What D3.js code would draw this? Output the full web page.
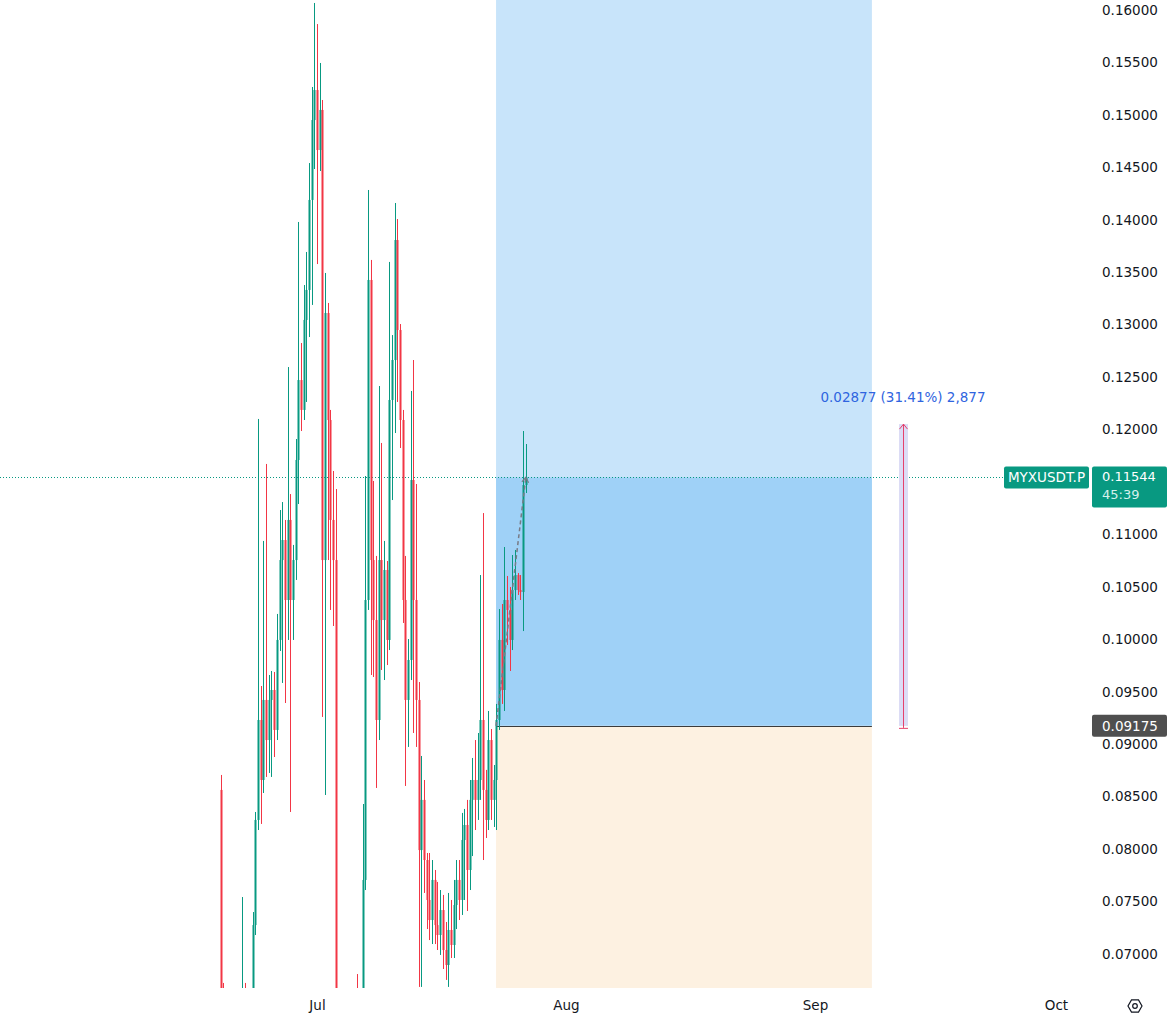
<!DOCTYPE html>
<html><head><meta charset="utf-8">
<script src="https://cdn.jsdelivr.net/npm/d3@7"></script>
<style>
html,body{margin:0;padding:0;background:#fff;}
svg{display:block;font-family:"DejaVu Sans",sans-serif;}
</style>
</head><body>
<svg id="chart" width="1167" height="1021"></svg>
<script>
// ---------------- DATA ----------------
const symbol = "MYXUSDT.P";
const candleStart = "2025-06-19T00:00:00Z";
const candleIntervalHours = 8;
const opens = [
0.08564,0.06657,0.06181,0.05990,0.06276,0.06086,0.05895,0.06181,0.06467,0.06610,
0.06276,0.06467,0.06638,0.07276,0.08278,0.09231,0.08659,0.09422,0.09040,0.09422,
0.09517,0.09136,0.09994,0.10756,0.10947,0.10375,0.11138,0.10375,0.10756,0.11710,
0.12472,0.12187,0.13045,0.13331,0.14189,0.14951,0.15237,0.14665,0.15047,0.10756,
0.13111,0.12091,0.11138,0.10756,0.06562,0.06181,0.05895,0.05990,0.06276,0.06086,
0.06371,0.06562,0.06371,0.06562,0.07706,0.10375,0.13426,0.10756,0.10184,0.09231,
0.10756,0.10184,0.10661,0.09994,0.12282,0.12663,0.13807,0.12949,0.12091,0.10375,
0.09422,0.09803,0.11519,0.10375,0.09422,0.07991,0.08469,0.07896,0.07515,0.07324,
0.07706,0.07276,0.07181,0.07419,0.07038,0.06895,0.07229,0.07086,0.07467,0.07706,
0.07515,0.08087,0.08230,0.07801,0.08469,0.08659,0.08469,0.08659,0.09231,0.08564,
0.08278,0.09040,0.08469,0.08659,0.09231,0.09994,0.09517,0.10375,0.10280,0.09994,
0.10470,0.10613,0.10470,0.10451,0.11471];
const highs = [
0.08707,0.06724,0.06562,0.06467,0.06562,0.06371,0.06276,0.06562,0.07543,0.06724,
0.06562,0.06657,0.07400,0.08354,0.12101,0.09555,0.10938,0.11672,0.09660,0.09698,
0.09689,0.10242,0.11233,0.11309,0.11138,0.12596,0.11385,0.10900,0.11910,0.13979,
0.12825,0.13378,0.13693,0.14541,0.15266,0.16067,0.15866,0.15495,0.15142,0.13493,
0.13207,0.12187,0.11605,0.11433,0.06610,0.06467,0.06276,0.06371,0.06562,0.06467,
0.06610,0.06809,0.06610,0.08430,0.11557,0.14284,0.13617,0.11510,0.10795,0.12415,
0.11872,0.10938,0.10747,0.13598,0.12901,0.14160,0.14007,0.13006,0.12187,0.10795,
0.10003,0.12368,0.12663,0.11481,0.09593,0.08888,0.08659,0.07963,0.07963,0.07896,
0.07801,0.07687,0.07610,0.07563,0.07305,0.07582,0.07515,0.07706,0.07896,0.07896,
0.08345,0.08383,0.08469,0.08659,0.08869,0.09040,0.09107,0.10613,0.11204,0.08755,
0.09317,0.09145,0.08802,0.09384,0.10289,0.10337,0.10880,0.10604,0.10499,0.10804,
0.10852,0.10632,0.10613,0.11986,0.11862];
const lows = [
0.05608,0.05800,0.05705,0.05608,0.05800,0.05513,0.05513,0.05895,0.06181,0.06086,
0.05990,0.06181,0.06562,0.07181,0.08182,0.08240,0.08535,0.08688,0.08726,0.08688,
0.08878,0.09040,0.09889,0.09584,0.09393,0.09994,0.08354,0.09994,0.10566,0.11290,
0.11986,0.12091,0.12263,0.12882,0.13188,0.14484,0.13578,0.14465,0.09260,0.08516,
0.10756,0.10280,0.10127,0.06467,0.05608,0.05418,0.05322,0.05608,0.05800,0.05705,
0.05990,0.06086,0.05990,0.06467,0.07610,0.10280,0.09660,0.09641,0.08583,0.09040,
0.09708,0.09612,0.09755,0.09898,0.11328,0.11967,0.12263,0.11824,0.10156,0.08602,
0.08974,0.09612,0.09107,0.08974,0.06686,0.06686,0.07582,0.07238,0.07133,0.07095,
0.07095,0.07038,0.06991,0.06857,0.06753,0.06686,0.06962,0.06962,0.07238,0.07324,
0.07372,0.07515,0.07410,0.07610,0.07934,0.08182,0.08278,0.08469,0.07896,0.08106,
0.08182,0.08278,0.08211,0.08182,0.09136,0.09384,0.09317,0.09946,0.09698,0.09898,
0.10375,0.10423,0.10375,0.10079,0.11395];
const closes = [
0.06086,0.06181,0.05990,0.06276,0.06086,0.05895,0.06181,0.06467,0.06610,0.06276,
0.06467,0.06638,0.07276,0.08278,0.09231,0.08659,0.09422,0.09040,0.09422,0.09517,
0.09136,0.09994,0.10756,0.10947,0.10375,0.11138,0.10375,0.10756,0.11710,0.12472,
0.12187,0.13045,0.13331,0.14189,0.14951,0.15237,0.14665,0.15047,0.10756,0.13111,
0.12091,0.11138,0.10756,0.06562,0.06181,0.05895,0.05990,0.06276,0.06086,0.06371,
0.06562,0.06371,0.06562,0.07706,0.10375,0.13426,0.10756,0.10184,0.09231,0.10756,
0.10184,0.10661,0.09994,0.12282,0.12663,0.13807,0.12949,0.12091,0.10375,0.09422,
0.09803,0.11519,0.10375,0.09422,0.07991,0.08469,0.07896,0.07515,0.07324,0.07706,
0.07276,0.07181,0.07419,0.07038,0.06895,0.07229,0.07086,0.07467,0.07706,0.07515,
0.08087,0.08230,0.07801,0.08469,0.08659,0.08469,0.08659,0.09231,0.08564,0.08278,
0.09040,0.08469,0.08659,0.09231,0.09994,0.09517,0.10375,0.10280,0.09994,0.10470,
0.10613,0.10470,0.10451,0.11471,0.11544];

const monthTicks = ["2025-07-01","2025-08-01","2025-09-01","2025-10-01"];
const priceTicks = [0.07,0.075,0.08,0.085,0.09,0.095,0.10,0.105,0.11,0.115,0.12,0.125,0.13,0.135,0.14,0.145,0.15,0.155,0.16];

const lastPrice = 0.11544;
const countdown = "45:39";
const entryPrice = 0.09175;
const targetPrice = 0.175;
const stopPrice = 0.055;
const positionStart = "2025-07-23T07:00:00Z";
const positionEnd = "2025-09-08T02:00:00Z";
const measureTime = "2025-09-12T00:00:00Z";
const measureFrom = 0.09175;
const measureTo = 0.12052;
const measureLabel = "0.02877 (31.41%) 2,877";

// ---------------- CHART ----------------
const W = 1167, H = 1021;
const plotRight = 1092, plotBottom = 988;
const upColor = "#089981", downColor = "#f23645";

const svg = d3.select("#chart");
const x = d3.scaleUtc()
  .domain([new Date("2025-07-01T00:00:00Z"), new Date("2025-08-01T00:00:00Z")])
  .range([317, 566]);
const y = d3.scaleLinear().domain([0.07, 0.16]).range([954, 10]);

svg.append("rect").attr("width", W).attr("height", H).attr("fill", "#fff");

const defs = svg.append("defs");
defs.append("clipPath").attr("id", "plotClip")
  .append("rect").attr("x", 0).attr("y", 0).attr("width", plotRight).attr("height", plotBottom);

const plot = svg.append("g").attr("clip-path", "url(#plotClip)");

const t0 = new Date(candleStart).getTime();
const candles = opens.map((o, i) => ({
  t: new Date(t0 + i * candleIntervalHours * 3600e3),
  o, h: highs[i], l: lows[i], c: closes[i]
}));

// position zones
const px0 = x(new Date(positionStart)), px1 = x(new Date(positionEnd));
plot.append("rect").attr("x", px0).attr("width", px1 - px0)
  .attr("y", y(targetPrice)).attr("height", y(entryPrice) - y(targetPrice))
  .attr("fill", "#c8e4fa");
plot.append("rect").attr("x", px0).attr("width", px1 - px0)
  .attr("y", y(lastPrice)).attr("height", y(entryPrice) - y(lastPrice))
  .attr("fill", "#9fd1f7");
plot.append("rect").attr("x", px0).attr("width", px1 - px0)
  .attr("y", y(entryPrice)).attr("height", y(stopPrice) - y(entryPrice))
  .attr("fill", "#fdf1e1");
plot.append("line").attr("x1", px0).attr("x2", px1)
  .attr("y1", Math.round(y(entryPrice)) + 0.5).attr("y2", Math.round(y(entryPrice)) + 0.5)
  .attr("stroke", "#3b3b3b").attr("stroke-width", 1);

// last price dotted line
plot.append("line").attr("x1", 0).attr("x2", 1004)
  .attr("y1", Math.round(y(lastPrice)) + 0.5).attr("y2", Math.round(y(lastPrice)) + 0.5)
  .attr("stroke", upColor).attr("stroke-width", 1).attr("stroke-dasharray", "1,2");

// candles
const cg = plot.append("g");
candles.forEach(d => {
  const cx = Math.round(x(d.t));
  const col = d.c >= d.o ? upColor : downColor;
  cg.append("line").attr("x1", cx + 0.5).attr("x2", cx + 0.5)
    .attr("y1", y(d.h)).attr("y2", y(d.l)).attr("stroke", col).attr("stroke-width", 1);
  const yt = y(Math.max(d.o, d.c)), yb = y(Math.min(d.o, d.c));
  cg.append("rect").attr("x", cx - 0.5).attr("width", 2)
    .attr("y", yt).attr("height", Math.max(1, yb - yt)).attr("fill", col);
});

// dashed line from entry to current price
const last = candles[candles.length - 1];
const dx0 = px0, dy0 = y(entryPrice), dx1 = x(last.t), dy1 = y(lastPrice);
plot.append("line").attr("x1", dx0).attr("y1", dy0).attr("x2", dx1).attr("y2", dy1)
  .attr("stroke", "#787b86").attr("stroke-width", 1.5).attr("stroke-dasharray", "4,3");
const ang = Math.atan2(dy1 - dy0, dx1 - dx0);
const ah = 6;
plot.append("path")
  .attr("d", `M${dx1 - ah*Math.cos(ang - 0.6)},${dy1 - ah*Math.sin(ang - 0.6)}L${dx1},${dy1}L${dx1 - ah*Math.cos(ang + 0.6)},${dy1 - ah*Math.sin(ang + 0.6)}`)
  .attr("fill", "none").attr("stroke", "#787b86").attr("stroke-width", 1.2);

// measurement tool
const mx = Math.round(x(new Date(measureTime)));
const my0 = y(measureFrom), my1 = y(measureTo);
plot.append("rect").attr("x", mx - 4).attr("width", 9).attr("y", my1).attr("height", my0 - my1)
  .attr("fill", "#dcdcf5");
plot.append("line").attr("x1", mx + 0.5).attr("x2", mx + 0.5).attr("y1", my1).attr("y2", my0 + 2)
  .attr("stroke", "#e5416c").attr("stroke-width", 1);
plot.append("path").attr("d", `M${mx - 3.5},${my1 + 5}L${mx + 0.5},${my1}L${mx + 4.5},${my1 + 5}`)
  .attr("fill", "none").attr("stroke", "#e5416c").attr("stroke-width", 1);
plot.append("line").attr("x1", mx - 4).attr("x2", mx + 5).attr("y1", my0 + 2.5).attr("y2", my0 + 2.5)
  .attr("stroke", "#e5416c").attr("stroke-width", 1);
svg.append("text").attr("x", mx).attr("y", my1 - 22).attr("text-anchor", "middle")
  .attr("font-size", 13.5).attr("fill", "#2f64e0").text(measureLabel);

// price axis (labels hidden where the last-price box covers them)
const ly = y(lastPrice);
const visibleTicks = priceTicks.filter(p => {
  const py = y(p);
  return !(py > ly - 14 && py < ly + 34);
});
const ya = svg.append("g").attr("transform", "translate(1102,0)")
  .call(d3.axisRight(y).tickValues(visibleTicks).tickFormat(d3.format(".5f")).tickSize(0).tickPadding(0));
ya.select(".domain").remove();
ya.selectAll("text").attr("font-size", 13.5).attr("fill", "#131722").attr("font-family", "DejaVu Sans");

// time axis
const xa = svg.append("g").attr("transform", "translate(0,1000)")
  .call(d3.axisBottom(x).tickValues(monthTicks.map(s => new Date(s + "T00:00:00Z")))
    .tickFormat(d3.utcFormat("%b")).tickSize(0).tickPadding(0));
xa.select(".domain").remove();
xa.selectAll("text").attr("font-size", 13.5).attr("fill", "#131722").attr("font-family", "DejaVu Sans");

// settings icon
const gx = 1135, gy = 1006, gr = 7;
const hex = d3.range(6).map(k => {
  const a = Math.PI / 3 * k;
  return [gx + gr * Math.cos(a), gy + gr * Math.sin(a)];
});
svg.append("path").attr("d", "M" + hex.map(p => p.join(",")).join("L") + "Z")
  .attr("fill", "none").attr("stroke", "#131722").attr("stroke-width", 1.2);
svg.append("circle").attr("cx", gx).attr("cy", gy).attr("r", 2.3)
  .attr("fill", "none").attr("stroke", "#131722").attr("stroke-width", 1.2);

// last price labels
svg.append("rect").attr("x", 1004).attr("y", ly - 11).attr("width", 85).attr("height", 22)
  .attr("rx", 2).attr("fill", upColor);
svg.append("text").attr("x", 1046.5).attr("y", ly).attr("dy", "0.35em").attr("text-anchor", "middle")
  .attr("font-size", 13.5).attr("fill", "#fff").text(symbol);
svg.append("rect").attr("x", 1092).attr("y", ly - 11).attr("width", 75).attr("height", 41)
  .attr("rx", 2).attr("fill", upColor);
svg.append("text").attr("x", 1102).attr("y", ly - 1).attr("dy", "0.35em")
  .attr("font-size", 13).attr("fill", "#fff").text(d3.format(".5f")(lastPrice));
svg.append("text").attr("x", 1102).attr("y", ly + 17).attr("dy", "0.35em")
  .attr("font-size", 13).attr("fill", "#d6f0ec").text(countdown);

// entry price label
const ey = y(entryPrice);
svg.append("rect").attr("x", 1092).attr("y", ey - 11).attr("width", 75).attr("height", 22)
  .attr("rx", 2).attr("fill", "#4f4f4f");
svg.append("text").attr("x", 1102).attr("y", ey).attr("dy", "0.35em")
  .attr("font-size", 13.5).attr("fill", "#fff").text(d3.format(".5f")(entryPrice));
</script>
</body></html>
